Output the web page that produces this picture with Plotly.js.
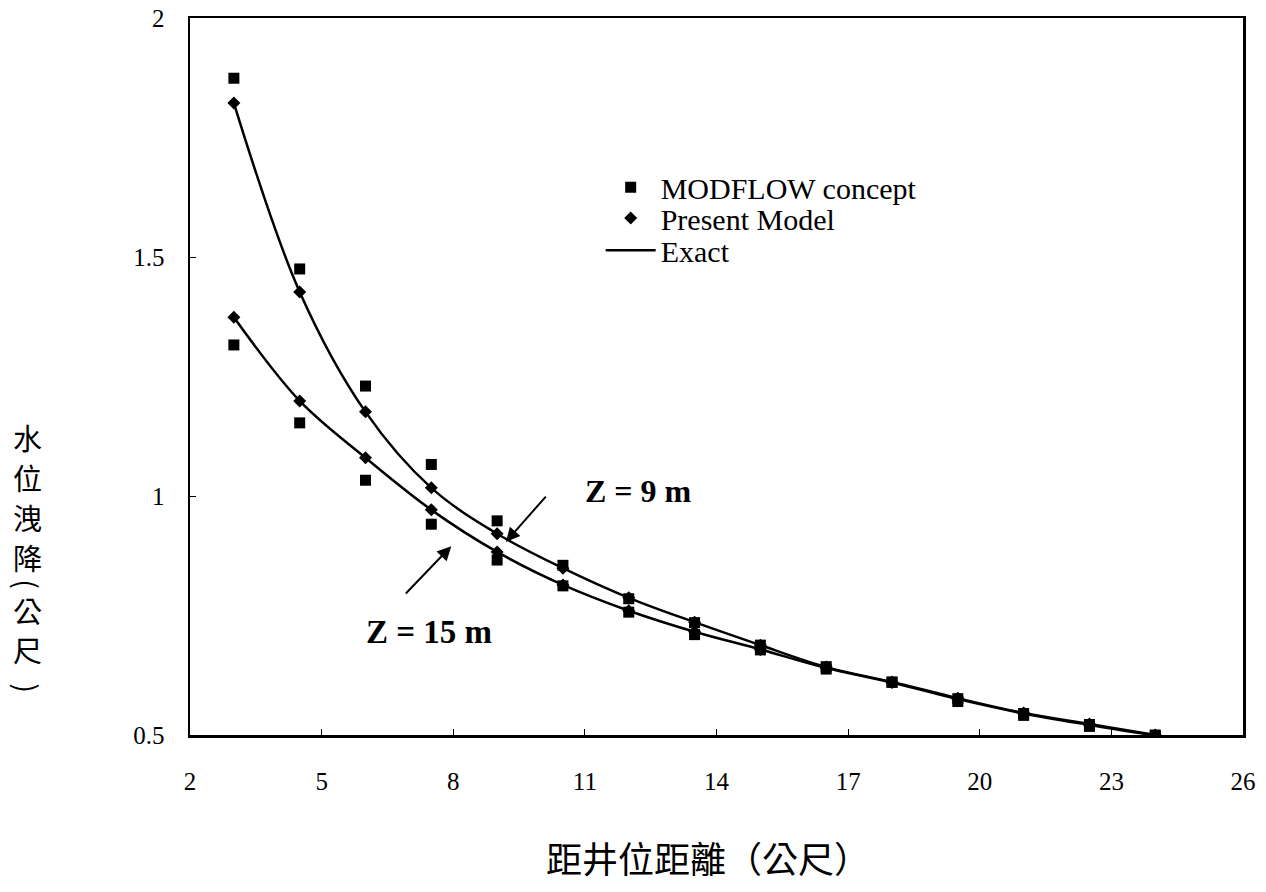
<!DOCTYPE html>
<html>
<head>
<meta charset="utf-8">
<script src="https://cdn.plot.ly/plotly-3.0.1.min.js"></script>
<style>html,body{margin:0;padding:0;background:#fff;}#chart{width:1266px;height:892px;}</style>
</head>
<body>
<div id="chart"></div>
<script>
// distance from well (m)
const distance = [3, 4.5, 6, 7.5, 9, 10.5, 12, 13.5, 15, 16.5, 18, 19.5, 21, 22.5, 24];
// Z = 9 m
const modflowZ9 = [1.874, 1.475, 1.230, 1.066, 0.948, 0.855, 0.785, 0.735, 0.688, 0.643, 0.611, 0.576, 0.545, 0.522, 0.500];
const presentZ9 = [1.822, 1.427, 1.176, 1.017, 0.921, 0.849, 0.787, 0.736, 0.688, 0.642, 0.611, 0.577, 0.546, 0.523, 0.500];
const exactZ9   = [1.822, 1.427, 1.176, 1.017, 0.921, 0.849, 0.787, 0.736, 0.688, 0.642, 0.611, 0.577, 0.546, 0.523, 0.500];
// Z = 15 m
const modflowZ15 = [1.316, 1.153, 1.033, 0.941, 0.866, 0.812, 0.757, 0.710, 0.678, 0.638, 0.610, 0.570, 0.541, 0.518, 0.498];
const presentZ15 = [1.374, 1.199, 1.080, 0.971, 0.883, 0.814, 0.760, 0.716, 0.679, 0.640, 0.610, 0.575, 0.545, 0.521, 0.499];
const exactZ15   = [1.374, 1.199, 1.080, 0.971, 0.883, 0.814, 0.760, 0.716, 0.679, 0.640, 0.610, 0.575, 0.545, 0.521, 0.499];

const xTicks = [2, 5, 8, 11, 14, 17, 20, 23, 26];
const yTicks = [0.5, 1, 1.5, 2];
const yTickText = ['0.5', '1', '1.5', '2'];
const seriesNames = ['MODFLOW concept', 'Present Model', 'Exact'];
const xTitle = '距井位距離（公尺）';
const yTitleChars = ['水', '位', '洩', '降', '(', '公', '尺', ')'];
const labelZ9 = '<b>Z = 9 m</b>';
const labelZ15 = '<b>Z = 15 m</b>';

const serif = 'Liberation Serif, Times New Roman, serif';
const cjk = 'Noto Sans CJK TC, Noto Sans CJK SC, sans-serif';

const traces = [
  {x: distance, y: modflowZ9, mode: 'markers', name: seriesNames[0], legend: 'legend', legendgroup: 'm',
   marker: {symbol: 'square', size: 11, color: '#000'}},
  {x: distance, y: modflowZ15, mode: 'markers', name: seriesNames[0], legendgroup: 'm', showlegend: false,
   marker: {symbol: 'square', size: 11, color: '#000'}},
  {x: distance, y: presentZ9, mode: 'markers', name: seriesNames[1], legend: 'legend2', legendgroup: 'p',
   marker: {symbol: 'diamond', size: 10, color: '#000'}},
  {x: distance, y: presentZ15, mode: 'markers', name: seriesNames[1], legendgroup: 'p', showlegend: false,
   marker: {symbol: 'diamond', size: 10, color: '#000'}},
  {x: distance, y: exactZ9, mode: 'lines', name: seriesNames[2], legend: 'legend3', legendgroup: 'e',
   line: {color: '#000', width: 2.5, shape: 'spline', smoothing: 1}},
  {x: distance, y: exactZ15, mode: 'lines', name: seriesNames[2], legendgroup: 'e', showlegend: false,
   line: {color: '#000', width: 2.5, shape: 'spline', smoothing: 1}}
];

function legendAt(yPaper) {
  return {x: 0.39, y: yPaper, xanchor: 'left', yanchor: 'middle', bgcolor: 'rgba(0,0,0,0)',
          font: {family: serif, size: 30, color: '#000'}, itemwidth: 50, borderwidth: 0};
}

// vertical y-axis title, one character per line; parentheses turned to vertical form
const yTitleY = [437, 477, 517, 557, 584, 610, 649, 688];
const yTitleAnns = yTitleChars.map((c, i) => ({
  xref: 'paper', yref: 'paper', x: -0.154, y: 1 - (yTitleY[i] - 18) / 717,
  xanchor: 'center', yanchor: 'middle', text: c, showarrow: false,
  textangle: (c === '(' || c === ')') ? 90 : 0,
  font: {family: cjk, size: 29, color: '#000'}
}));

const layout = {
  width: 1266, height: 892,
  margin: {l: 190, r: 23, t: 18, b: 157},
  paper_bgcolor: '#fff', plot_bgcolor: '#fff',
  font: {family: serif, color: '#000', size: 24},
  showlegend: true,
  legend: legendAt(0.764),
  legend2: legendAt(0.721),
  legend3: legendAt(0.676),
  xaxis: {range: [2, 26], tickvals: xTicks, ticktext: xTicks.map(String), ticks: 'inside', ticklen: 6,
          tickcolor: '#000', showline: true, linecolor: '#000', linewidth: 2.5, mirror: true,
          showgrid: false, zeroline: false, ticklabelstandoff: 22,
          tickfont: {family: serif, size: 25, color: '#000'}},
  yaxis: {range: [0.5, 2], tickvals: yTicks, ticktext: yTickText, ticks: 'inside', ticklen: 6,
          tickcolor: '#000', showline: true, linecolor: '#000', linewidth: 2.5, mirror: true,
          showgrid: false, zeroline: false, ticklabelstandoff: 18,
          tickfont: {family: serif, size: 25, color: '#000'}},
  annotations: [
    {xref: 'paper', yref: 'paper', x: 0.492, y: -0.170, xanchor: 'center', yanchor: 'middle',
     text: xTitle, showarrow: false, font: {family: cjk, size: 36, color: '#000'}},
    ...yTitleAnns,
    {xref: 'x', yref: 'y', x: 12.23, y: 1.01, text: labelZ9, showarrow: false,
     font: {family: serif, size: 32, color: '#000'}},
    {xref: 'x', yref: 'y', x: 7.45, y: 0.715, text: labelZ15, showarrow: false,
     font: {family: serif, size: 33, color: '#000'}},
    {xref: 'x', yref: 'y', axref: 'x', ayref: 'y', x: 9.2, y: 0.904, ax: 10.14, ay: 1.002, text: '',
     showarrow: true, arrowhead: 2, arrowsize: 1.4, arrowwidth: 2, arrowcolor: '#000'},
    {xref: 'x', yref: 'y', axref: 'x', ayref: 'y', x: 7.955, y: 0.895, ax: 6.886, ay: 0.793, text: '',
     showarrow: true, arrowhead: 2, arrowsize: 1.4, arrowwidth: 2, arrowcolor: '#000'}
  ]
};

Plotly.newPlot('chart', traces, layout, {displayModeBar: false, staticPlot: true});
</script>
</body>
</html>
